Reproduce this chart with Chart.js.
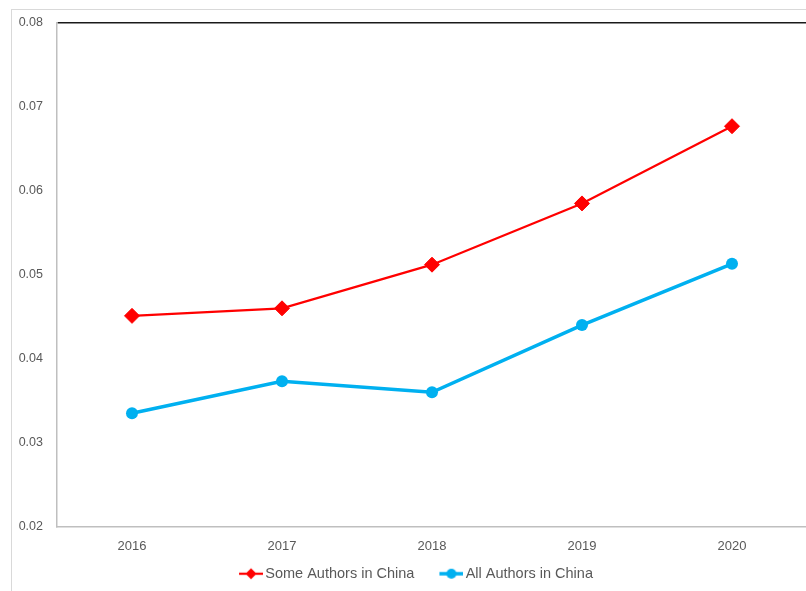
<!DOCTYPE html>
<html><head><meta charset="utf-8">
<script src="https://cdn.jsdelivr.net/npm/chart.js@4.4.0/dist/chart.umd.min.js"></script>
<style>
html,body{margin:0;padding:0;background:#fff;overflow:hidden;width:806px;height:591px;}
#frame{position:absolute;left:11px;top:9px;width:900px;height:700px;border-left:1px solid #D9D9D9;border-top:1px solid #D9D9D9;}
#c{position:absolute;left:0;top:0;}
</style></head><body>
<div id="frame"></div>
<canvas id="c" width="808" height="591"></canvas>
<script>
const years = ['2016', '2017', '2018', '2019', '2020'];
const someAuthorsInChina = [0.0451, 0.0460, 0.0512, 0.0585, 0.0677];
const allAuthorsInChina = [0.0335, 0.0373, 0.0360, 0.0440, 0.0513];
const seriesNames = ['Some Authors in China', 'All Authors in China'];
const yMin = 0.02, yMax = 0.08, yStep = 0.01;

const RED = '#FF0000', BLUE = '#00B0F0';
const FONT = '"Liberation Sans", Arial, sans-serif';

function legendIcon(color, lw, kind) {
  const c = document.createElement('canvas');
  c.width = 44; c.height = 16;
  const g = c.getContext('2d');
  g.strokeStyle = color; g.fillStyle = color; g.lineWidth = lw;
  g.beginPath(); g.moveTo(20, 8); g.lineTo(44, 8); g.stroke();
  g.beginPath();
  if (kind === 'diamond') {
    const cx = 32, r = 5.5;
    g.moveTo(cx, 8 - r); g.lineTo(cx + r, 8); g.lineTo(cx, 8 + r); g.lineTo(cx - r, 8); g.closePath();
  } else {
    g.arc(32, 8, 5, 0, Math.PI * 2);
  }
  g.fill();
  return c;
}
const icons = [legendIcon(RED, 2.25, 'diamond'), legendIcon(BLUE, 3.5, 'circle')];

const shiftLegend = {
  id: 'shiftLegend',
  afterLayout(chart) {
    const l = chart.legend;
    if (l) { l.left += 5; l.right += 5; }
  }
};

new Chart(document.getElementById('c'), {
  type: 'line',
  data: {
    labels: years,
    datasets: [
      { label: seriesNames[0], data: someAuthorsInChina, borderColor: RED, backgroundColor: RED,
        borderWidth: 2.25, pointStyle: 'rectRot', pointRadius: 7.5, pointBorderWidth: 1, tension: 0 },
      { label: seriesNames[1], data: allAuthorsInChina, borderColor: BLUE, backgroundColor: BLUE,
        borderWidth: 3.5, pointStyle: 'circle', pointRadius: 6, pointBorderWidth: 0, tension: 0 }
    ]
  },
  plugins: [shiftLegend],
  options: {
    responsive: false,
    devicePixelRatio: 1,
    animation: false,
    layout: { autoPadding: false, padding: { left: 0, top: 23, right: 1, bottom: 0 } },
    plugins: {
      tooltip: { enabled: false },
      legend: {
        position: 'bottom',
        labels: {
          usePointStyle: true,
          pointStyleWidth: 34,
          padding: 10,
          color: '#595959',
          font: { family: FONT, size: 14.5 },
          generateLabels: (chart) => chart.data.datasets.map((ds, i) => ({
            text: ds.label, pointStyle: icons[i], datasetIndex: i,
            fillStyle: ds.borderColor, strokeStyle: ds.borderColor, lineWidth: 0, hidden: false,
            fontColor: '#595959'
          }))
        }
      }
    },
    scales: {
      x: {
        offset: true,
        grid: { display: false, drawTicks: false },
        border: { display: true, color: '#BFBFBF', width: 1.5 },
        ticks: { color: '#595959', font: { family: FONT, size: 13 }, padding: 12 },
        afterFit: (s) => { s.height = 30; }
      },
      y: {
        min: yMin, max: yMax,
        grid: {
          drawTicks: false,
          color: (ctx) => (ctx.tick && Math.abs(ctx.tick.value - yMax) < 1e-9) ? '#1a1a1a' : 'rgba(0,0,0,0)',
          lineWidth: 1.5
        },
        border: { display: true, color: '#BFBFBF', width: 1.5 },
        ticks: {
          stepSize: yStep, color: '#595959', font: { family: FONT, size: 12.5 }, padding: 14,
          callback: (v) => v.toFixed(2)
        },
        afterFit: (s) => { s.width = 57; }
      }
    }
  }
});
</script>
</body></html>
